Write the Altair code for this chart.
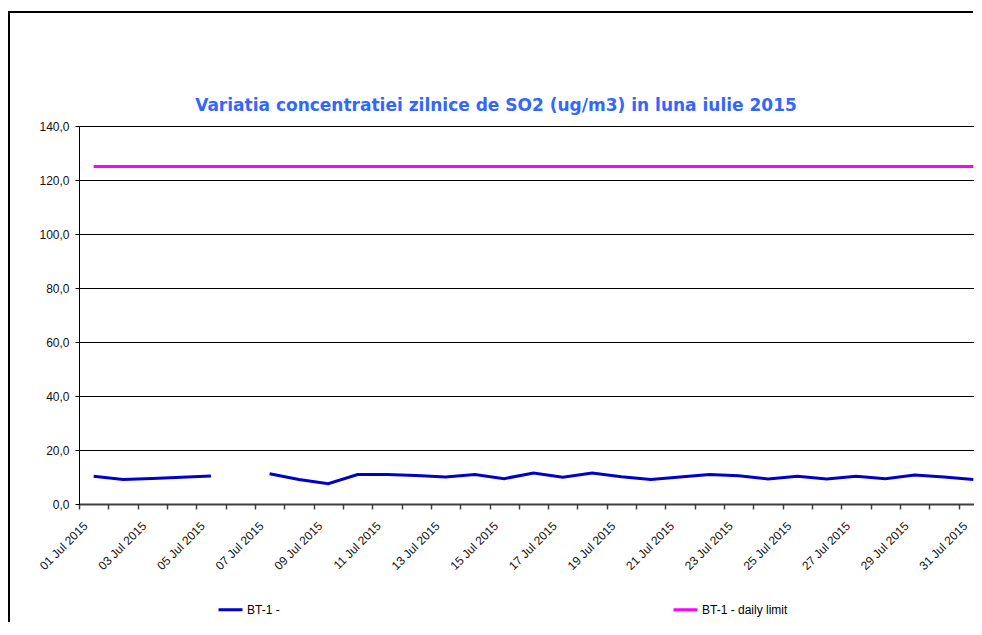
import altair as alt
import pandas as pd

# ---- data ----
dates = [f"{d:02d} Jul 2015" for d in range(1, 32)]
so2 = [10.3, 9.1, 9.4, 9.9, 10.4, None, 11.2, 9.1, 7.5, 10.9, 10.9, 10.6, 10.0,
       10.9, 9.4, 11.5, 9.9, 11.5, 10.1, 9.1, 10.0, 10.9, 10.5, 9.3, 10.3, 9.3,
       10.3, 9.4, 10.7, 10.0, 9.1]
limit = [125.0, 125.0, 125.0, 125.0, 125.0, 125.0, 125.0, 125.0, 125.0, 125.0,
         125.0, 125.0, 125.0, 125.0, 125.0, 125.0, 125.0, 125.0, 125.0, 125.0,
         125.0, 125.0, 125.0, 125.0, 125.0, 125.0, 125.0, 125.0, 125.0, 125.0,
         125.0]
series_names = ["BT-1 -", "BT-1 - daily limit"]
series_colors = ["#0000CC", "#FF00FF"]
y_ticks = [0, 20, 40, 60, 80, 100, 120, 140]
shown_labels = dates[0::2]
title_text = "Variatia concentratiei zilnice de SO2 (ug/m3) in luna iulie 2015"

rows = []
seg = 0
for d, v in zip(dates, so2):
    if v is None:
        seg += 1
        continue
    rows.append({"date": d, "value": v, "series": series_names[0], "seg": seg})
for d, v in zip(dates, limit):
    rows.append({"date": d, "value": v, "series": series_names[1], "seg": 100})
df = pd.DataFrame(rows)

label_expr = "indexof(" + str(shown_labels).replace("'", '"') + ", datum.value) >= 0 ? datum.value : ''"

x = alt.X(
    "date:O",
    bandPosition=0.5,
    scale=alt.Scale(type="band", domain=dates, paddingInner=0, paddingOuter=0),
    axis=alt.Axis(
        title=None, labelAngle=315, labelAlign="right", labelBaseline="top",
        labelExpr=label_expr, labelOverlap=False, tickBand="extent",
        labelFont="Arial", labelFontSize=12, labelColor="#111111",
        labelPadding=11, labelOffset=-12, tickSize=5, tickColor="#404040",
        tickWidth=1.5, domainColor="#404040", domainWidth=2, grid=False,
    ),
)
y = alt.Y(
    "value:Q",
    scale=alt.Scale(domain=[0, 140], nice=False),
    axis=alt.Axis(
        title=None, values=y_ticks, grid=True, gridColor="#000000", gridWidth=1,
        labelExpr="replace(format(datum.value, '.1f'), '.', ',')",
        labelFont="Arial", labelFontSize=12, labelColor="#111111",
        labelPadding=6, tickSize=4, tickColor="#000000",
        domainColor="#000000", domainWidth=1,
    ),
)

lines = alt.Chart(df).mark_line(strokeWidth=3).encode(
    x=x,
    y=y,
    detail="seg:N",
    color=alt.Color(
        "series:N",
        scale=alt.Scale(domain=series_names, range=series_colors),
        legend=alt.Legend(
            title=None, orient="none", legendX=138, legendY=470,
            direction="horizontal", symbolType="stroke", symbolSize=576,
            symbolStrokeWidth=3, labelFont="Arial", labelFontSize=12,
            labelColor="#000000", labelOffset=3, columnPadding=387, padding=0,
        ),
    ),
)

one_row = alt.Data(values=[{"k": 1}])
frame_left = alt.Chart(one_row).mark_rule(color="#000000", strokeWidth=2).encode(
    x=alt.value(-70), y=alt.value(-114), y2=alt.value(1200)
)
frame_top = alt.Chart(one_row).mark_rule(color="#000000", strokeWidth=2).encode(
    x=alt.value(-71), x2=alt.value(894), y=alt.value(-114)
)

title = alt.Chart(alt.Data(values=[{"t": title_text}])).mark_text(
    font="DejaVu Sans", fontSize=17, fontWeight="bold", color="#3366FF",
    align="center", baseline="alphabetic",
).encode(text="t:N", x=alt.value(417), y=alt.value(-15))

chart = alt.layer(frame_left, frame_top, lines, title).properties(
    width=909,
    height=378,
    autosize=alt.AutoSizeParams(type="none"),
    padding={"left": 71, "top": 118, "right": -14, "bottom": 118},
).configure_view(stroke=None).configure(background="#FFFFFF")

chart.save("out.html", embed_options={"renderer": "svg", "actions": False})
